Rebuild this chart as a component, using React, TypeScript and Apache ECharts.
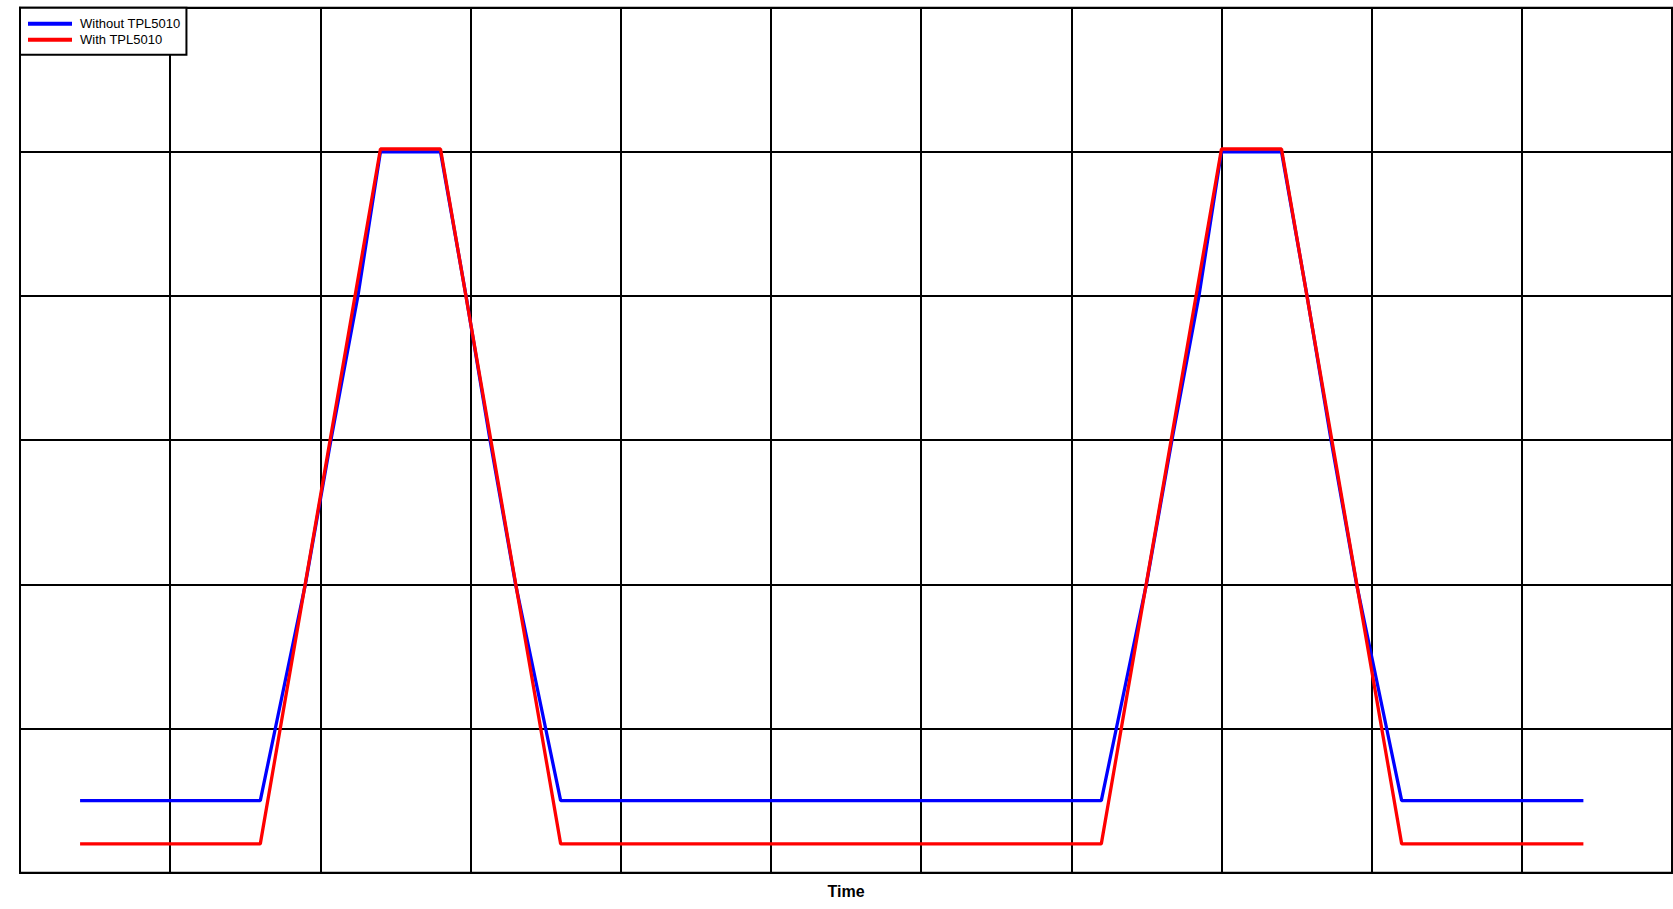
import React, { useEffect, useRef } from "react";
import * as echarts from "echarts";

const seriesNames = ["Without TPL5010", "With TPL5010"];

const withoutTpl: [number, number][] = [
  [0.4, 0.5], [1.6, 0.5], [1.7, 1.0], [1.82, 1.6], [1.9, 2.0], [2.07, 3.0], [2.25, 4.0], [2.4, 5.0],
  [2.8, 5.0], [2.97, 4.0], [3.13, 3.0], [3.3, 2.0], [3.5, 1.0], [3.6, 0.5],
  [7.2, 0.5], [7.3, 1.0], [7.42, 1.6], [7.5, 2.0], [7.67, 3.0], [7.85, 4.0], [8.0, 5.0],
  [8.4, 5.0], [8.57, 4.0], [8.73, 3.0], [8.9, 2.0], [9.1, 1.0], [9.2, 0.5], [10.41, 0.5],
];

const withTpl: [number, number][] = [
  [0.4, 0.2], [1.6, 0.2], [2.4, 5.02], [2.8, 5.02], [3.6, 0.2],
  [7.2, 0.2], [8.0, 5.02], [8.4, 5.02], [9.2, 0.2], [10.41, 0.2],
];

const xRange = { min: 0, max: 11, interval: 1 };
const yRange = { min: 0, max: 6, interval: 1 };
const xTitle = "Time";

export default function App() {
  const ref = useRef<HTMLDivElement>(null);
  useEffect(() => {
    if (!ref.current) return;
    const chart = echarts.init(ref.current, null, { renderer: "svg" });
    const font = "'Liberation Sans', Arial, sans-serif";
    chart.setOption({
      animation: false,
      backgroundColor: "#ffffff",
      grid: {
        left: 20,
        right: 1,
        top: 7.7,
        bottom: 36.3,
        show: true,
        borderColor: "#000",
        borderWidth: 2,
        backgroundColor: "transparent",
      },
      legend: {
        left: 20,
        top: 7.7,
        orient: "vertical",
        itemGap: 0,
        itemWidth: 44,
        itemHeight: 4,
        icon: "rect",
        padding: [8, 6, 7, 8],
        backgroundColor: "#fff",
        borderColor: "#000",
        borderWidth: 2,
        borderRadius: 0,
        textStyle: { fontFamily: font, fontSize: 13, color: "#000", lineHeight: 16, padding: [0, 0, 0, 3] },
        data: seriesNames,
      },
      xAxis: {
        type: "value",
        min: xRange.min,
        max: xRange.max,
        interval: xRange.interval,
        name: xTitle,
        nameLocation: "middle",
        nameGap: 11,
        nameTextStyle: { fontFamily: font, fontSize: 16, fontWeight: "bold", color: "#000" },
        axisLine: { show: true, lineStyle: { color: "#000", width: 2 } },
        axisTick: { show: false },
        axisLabel: { show: false },
        splitLine: { show: true, lineStyle: { color: "#000", width: 2 } },
      },
      yAxis: {
        type: "value",
        min: yRange.min,
        max: yRange.max,
        interval: yRange.interval,
        axisLine: { show: true, lineStyle: { color: "#000", width: 2 } },
        axisTick: { show: false },
        axisLabel: { show: false },
        splitLine: { show: true, lineStyle: { color: "#000", width: 2 } },
      },
      series: [
        {
          name: seriesNames[0],
          type: "line",
          data: withoutTpl,
          showSymbol: false,
          symbol: "none",
          color: "#0000ff",
          lineStyle: { color: "#0000ff", width: 3.3 },
        },
        {
          name: seriesNames[1],
          type: "line",
          data: withTpl,
          showSymbol: false,
          symbol: "none",
          color: "#ff0000",
          lineStyle: { color: "#ff0000", width: 3.3 },
        },
      ],
    });
    return () => chart.dispose();
  }, []);
  return (
    <div
      ref={ref}
      style={{ position: "fixed", left: 0, top: 0, width: 1673, height: 909, background: "#fff" }}
    />
  );
}
